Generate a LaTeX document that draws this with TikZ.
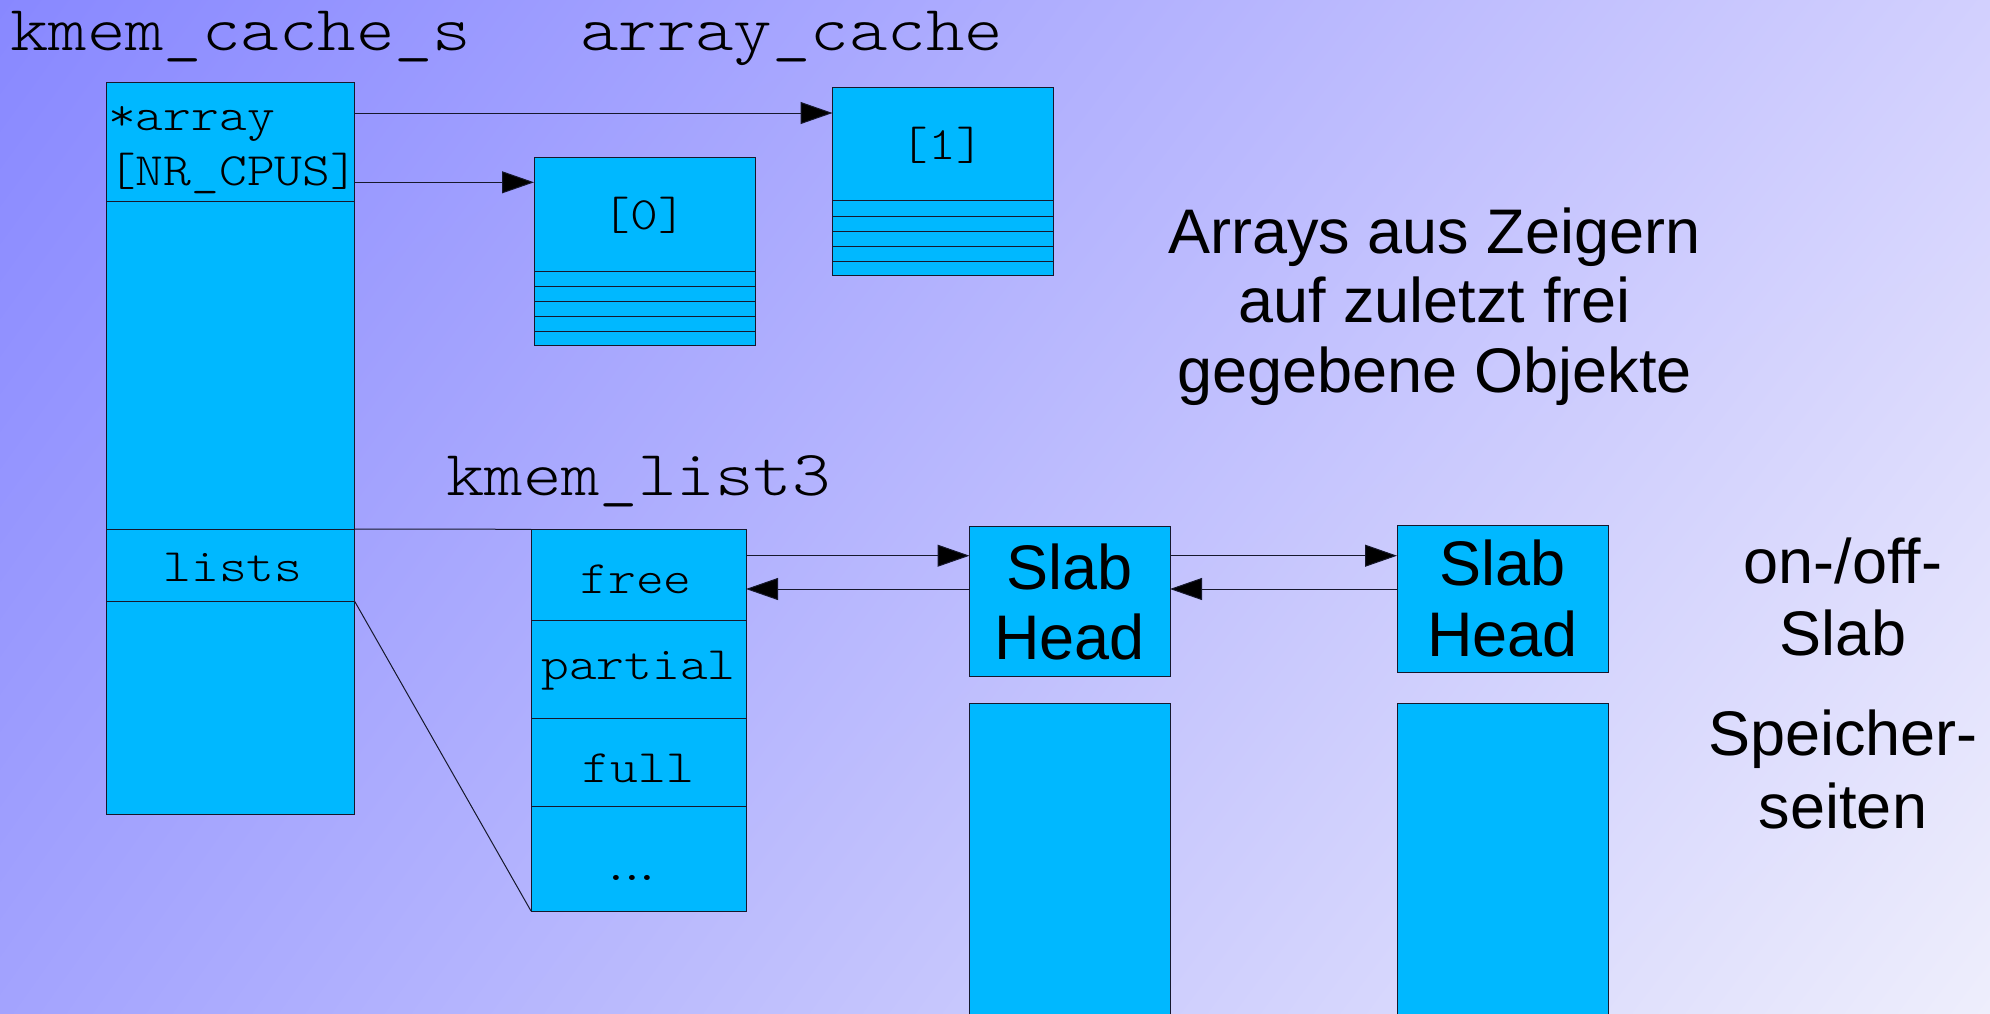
\documentclass[tikz,border=0pt]{standalone}
\usepackage{fontspec}
\setmainfont{Liberation Sans}
\newfontfamily\monofont{lmmonolt10-regular}[Extension=.otf,FakeStretch=1.14]
\usetikzlibrary{arrows.meta,shadings}
\definecolor{boxblue}{RGB}{0,184,255}
\definecolor{edge}{RGB}{22,24,44}
\definecolor{bgUL}{RGB}{136,136,255}
\definecolor{bgUR}{RGB}{210,208,254}
\definecolor{bgLL}{RGB}{163,163,254}
\definecolor{bgLR}{RGB}{238,238,252}
\begin{document}
\begin{tikzpicture}[x=1pt,y=-1pt,
  box/.style={draw=edge, line width=1pt, fill=boxblue, inner sep=0pt, outer sep=0pt, anchor=north west},
  thin/.style={draw=edge, line width=1pt},
  arr/.style={draw=edge, line width=1pt, -{Triangle[length=32pt,width=22pt,fill=black]}},
  title/.style={inner sep=0pt, anchor=base west, font=\monofont\fontsize{64.2}{70}\selectfont},
  field/.style={inner sep=0pt, anchor=base, font=\monofont\fontsize{46.4}{52}\selectfont},
  fieldl/.style={field, anchor=base west},
  note/.style={inner sep=0pt, anchor=base, font=\fontsize{63}{70}\selectfont}
]
\useasboundingbox (0,0) rectangle (1990,1013);
\shade[upper left=bgUL, upper right=bgUR, lower left=bgLL, lower right=bgLR] (0,0) rectangle (1990,1013);

% titles
\node[title] (tcache) at (10,50) {kmem\_cache\_s};
\node[title] (tarray) at (580,50) {array\_cache};
\node[title] (tlist) at (446,495) {kmem\_list3};

% kmem_cache_s
\node[box, minimum width=247.8pt, minimum height=731.7pt] (cache) at (106.7,82.3) {};
\foreach \yy in {201,529,601} \draw[thin] (cache.west |- 0,\yy) -- (cache.east |- 0,\yy);
\node[fieldl] (farr) at (108,130) {*array};
\node[fieldl] (fnr) at (108,185) {[NR\_CPUS]};
\node[field] (flists) at (233,581.7) {lists};

% array_cache boxes
\node[box, minimum width=221pt, minimum height=188pt] (ac0) at (534,157.3) {};
\foreach \yy in {271,286,301,316,331} \draw[thin] (ac0.west |- 0,\yy) -- (ac0.east |- 0,\yy);
\node[field] (l0) at (644.5,229.3) {[0]};
\node[box, minimum width=220.5pt, minimum height=188pt] (ac1) at (832.5,87.3) {};
\foreach \yy in {200.3,216,231,246,261} \draw[thin] (ac1.west |- 0,\yy) -- (ac1.east |- 0,\yy);
\node[field] (l1) at (942.5,159.3) {[1]};

\draw[arr] (cache.east |- 0,113) -- (ac1.west |- 0,113);
\draw[arr] (cache.east |- 0,182.3) -- (ac0.west |- 0,182.3);

% kmem_list3
\node[box, minimum width=215pt, minimum height=381.7pt] (l3) at (531,529.3) {};
\foreach \yy in {620,718.3,806.7} \draw[thin] (l3.west |- 0,\yy) -- (l3.east |- 0,\yy);
\node[field] (ffree) at (636,593.3) {free};
\node[field] (fpart) at (638.5,679.3) {partial};
\node[field] (ffull) at (638.5,782.7) {full};
\node[field] (fdots) at (632,880.7) {.\kern-12pt.\kern-12pt.};
\draw[thin] (cache.east |- 0,529) -- (l3.north west);
\draw[thin] (cache.east |- 0,601) -- (l3.south west);

% slabs
\node[box, minimum width=200.5pt, minimum height=149.3pt] (slab1) at (969.5,526.7) {};
\node[note] (s1a) at (1069.5,589) {Slab};
\node[note] (s1b) at (1069.5,659.3) {Head};
\node[box, minimum width=211pt, minimum height=146.3pt] (slab2) at (1397,525.7) {};
\node[note] (s2a) at (1502.5,585.5) {Slab};
\node[note] (s2b) at (1502.5,656) {Head};
\node[box, minimum width=200.5pt, minimum height=330pt] (page1) at (969.5,703) {};
\node[box, minimum width=211pt, minimum height=330pt] (page2) at (1397,703) {};

\draw[arr] (l3.east |- 0,555.7) -- (slab1.west |- 0,555.7);
\draw[arr] (slab1.west |- 0,589) -- (l3.east |- 0,589);
\draw[arr] (slab1.east |- 0,555.7) -- (slab2.west |- 0,555.7);
\draw[arr] (slab2.west |- 0,589) -- (slab1.east |- 0,589);

% notes
\node[note] (n1) at (1434.5,253.3) {Arrays aus Zeigern};
\node[note] (n2) at (1434.5,322.7) {auf zuletzt frei};
\node[note] (n3) at (1434.5,392.7) {gegebene Objekte};
\node[note] (n4) at (1843,583) {on-/off-};
\node[note] (n5) at (1843,655) {Slab};
\node[note] (n6) at (1843,755) {Speicher-};
\node[note] (n7) at (1843,828) {seiten};
\end{tikzpicture}
\end{document}
